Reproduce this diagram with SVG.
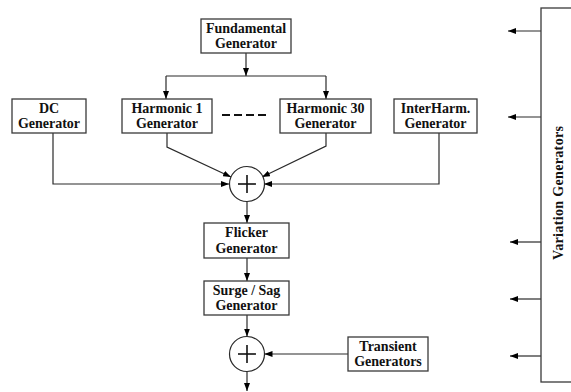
<svg xmlns="http://www.w3.org/2000/svg" width="571" height="392" viewBox="0 0 571 392">
<defs>
<marker id="ah" markerWidth="8" markerHeight="6" refX="8" refY="3" orient="auto" markerUnits="userSpaceOnUse">
<path d="M0,0 L8,3 L0,6 Z" fill="#000"/>
</marker>
</defs>
<style>
.box{fill:#fff;stroke:#3a3a3a;stroke-width:1.3}
.t{font-family:"Liberation Serif","Times New Roman",serif;font-weight:bold;font-size:14px;fill:#111;text-anchor:middle}
.c{fill:none;stroke:#2a2a2a;stroke-width:1.2}
.a{fill:none;stroke:#2a2a2a;stroke-width:1.2;marker-end:url(#ah)}
.plus{stroke:#111;stroke-width:1.6}
</style>
<rect width="571" height="392" fill="#fff"/>

<g id="connectors">
<line class="a" x1="246" y1="53" x2="246" y2="76"/>
<polyline class="c" points="166,76 326,76"/>
<line class="a" x1="166" y1="76" x2="166" y2="99"/>
<line class="a" x1="326" y1="76" x2="326" y2="99"/>
<polyline class="a" points="53,133 53,184 229,184"/>
<polyline class="a" points="167,133 167,147 231,177"/>
<polyline class="a" points="326,133 326,146 262,177"/>
<polyline class="a" points="439,133 439,184 264,184"/>
<line class="a" x1="247" y1="201.5" x2="247" y2="223"/>
<line class="a" x1="247" y1="258" x2="247" y2="281"/>
<line class="a" x1="247" y1="315" x2="247" y2="336.5"/>
<line class="a" x1="247" y1="371.5" x2="247" y2="391"/>
<line class="a" x1="348" y1="354" x2="264.5" y2="354"/>
<line class="a" x1="541" y1="31" x2="508" y2="31"/>
<line class="a" x1="541" y1="117" x2="508" y2="117"/>
<line class="a" x1="541" y1="242" x2="510" y2="242"/>
<line class="a" x1="541" y1="299" x2="510" y2="299"/>
<line class="a" x1="541" y1="356" x2="510" y2="356"/>
<line x1="222" y1="115" x2="266" y2="115" stroke="#111" stroke-width="2" stroke-dasharray="8 4"/>
</g>

<g id="fundamental">
<rect class="box" x="201" y="19" width="90" height="34"/>
<text class="t" x="246" y="33">Fundamental</text>
<text class="t" x="246" y="48">Generator</text>
</g>
<g id="dc">
<rect class="box" x="12" y="99" width="74" height="34"/>
<text class="t" x="49" y="113">DC</text>
<text class="t" x="49" y="128">Generator</text>
</g>
<g id="harmonic1">
<rect class="box" x="122" y="99" width="90" height="34"/>
<text class="t" x="167" y="113">Harmonic 1</text>
<text class="t" x="167" y="128">Generator</text>
</g>
<g id="harmonic30">
<rect class="box" x="280" y="99" width="91" height="34"/>
<text class="t" x="325.5" y="113">Harmonic 30</text>
<text class="t" x="325.5" y="128">Generator</text>
</g>
<g id="interharm">
<rect class="box" x="394" y="99" width="83" height="34"/>
<text class="t" x="435.5" y="113">InterHarm.</text>
<text class="t" x="435.5" y="128">Generator</text>
</g>
<g id="sum1">
<circle cx="247" cy="184" r="17.5" fill="#fff" stroke="#2a2a2a" stroke-width="1.2"/>
<line class="plus" x1="238" y1="184" x2="256" y2="184"/>
<line class="plus" x1="247" y1="175" x2="247" y2="193"/>
</g>
<g id="flicker">
<rect class="box" x="204" y="223" width="85" height="35"/>
<text class="t" x="246.5" y="237">Flicker</text>
<text class="t" x="246.5" y="253">Generator</text>
</g>
<g id="surge">
<rect class="box" x="204" y="281" width="85" height="34"/>
<text class="t" x="246.5" y="295">Surge / Sag</text>
<text class="t" x="246.5" y="310">Generator</text>
</g>
<g id="sum2">
<circle cx="247" cy="354" r="17.5" fill="#fff" stroke="#2a2a2a" stroke-width="1.2"/>
<line class="plus" x1="238" y1="354" x2="256" y2="354"/>
<line class="plus" x1="247" y1="345" x2="247" y2="363"/>
</g>
<g id="transient">
<rect class="box" x="348" y="337" width="80" height="34"/>
<text class="t" x="388" y="351">Transient</text>
<text class="t" x="388" y="366">Generators</text>
</g>
<g id="variation">
<rect class="box" x="541" y="8" width="50" height="374"/>
<text class="t" transform="translate(563,193) rotate(-90)" x="0" y="0" textLength="134" lengthAdjust="spacing">Variation Generators</text>
</g>
</svg>
